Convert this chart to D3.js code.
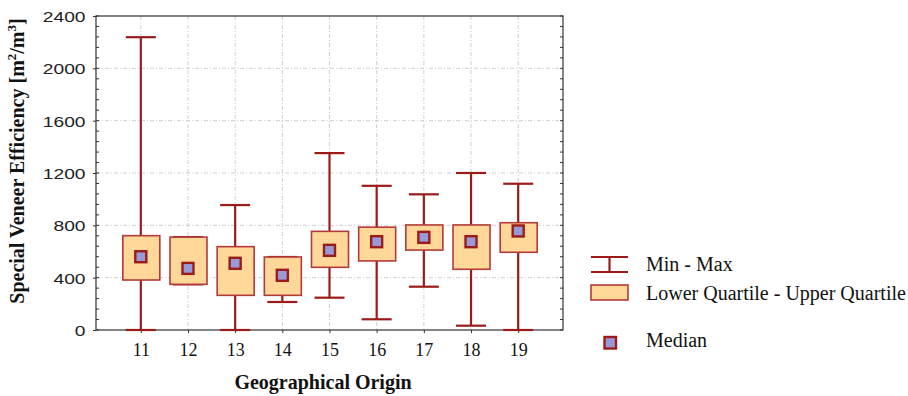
<!DOCTYPE html>
<html>
<head>
<meta charset="utf-8">
<script src="https://cdn.jsdelivr.net/npm/d3@7"></script>
<style>
  html, body { margin: 0; padding: 0; background: #fff; }
  svg { display: block; }
</style>
</head>
<body>
<svg id="chart" width="908" height="396"></svg>
<script>
// ---- data ----
const categories = ["11", "12", "13", "14", "15", "16", "17", "18", "19"];
const minValues    = [0,    349, 0,   214, 247,  82,   331,  33,   0];
const lowerQuart   = [382,  349, 265, 265, 479,  528,  611,  464,  594];
const medianValues = [560,  471, 510, 418, 609,  675,  708,  675,  757];
const upperQuart   = [721,  710, 637, 558, 754,  786,  803,  803,  820];
const maxValues    = [2238, 710, 955, 558, 1352, 1102, 1037, 1200, 1118];
const yTicks = [0, 400, 800, 1200, 1600, 2000, 2400];
const legendLabels = ["Min - Max", "Lower Quartile - Upper Quartile", "Median"];

// ---- styles ----
const darkRed = "#9b1b1b";
const boxFill = "#ffd798";
const boxStroke = "#b33a3a";
const medFill = "#9a99d8";
const gridColor = "#cfcfcf";

const svg = d3.select("#chart");
const pL = 96, pR = 563, pT = 16, pB = 330;

const x = d3.scalePoint().domain(categories).range([pL, pR]).padding(0.95);
const y = d3.scaleLinear().domain([0, 2400]).range([pB, pT]);

// gridlines
const grid = svg.append("g");
grid.selectAll("line.h").data(yTicks.filter(d => d > 0 && d < 2400)).join("line")
  .attr("x1", pL).attr("x2", pR)
  .attr("y1", d => y(d)).attr("y2", d => y(d))
  .attr("stroke", gridColor).attr("stroke-width", 1).attr("stroke-dasharray", "4,2,1,2");
grid.selectAll("line.v").data(categories).join("line")
  .attr("x1", d => x(d)).attr("x2", d => x(d))
  .attr("y1", pT).attr("y2", pB)
  .attr("stroke", gridColor).attr("stroke-width", 1).attr("stroke-dasharray", "4,2,1,2");

// minor ticks (inward) on left and right
const minor = d3.range(0, 2400 + 1, 80);
svg.append("g").selectAll("line").data(minor).join("line")
  .attr("x1", pL).attr("x2", pL + 3)
  .attr("y1", d => y(d)).attr("y2", d => y(d))
  .attr("stroke", "#333").attr("stroke-width", 1);
svg.append("g").selectAll("line").data(minor).join("line")
  .attr("x1", pR).attr("x2", pR - 3)
  .attr("y1", d => y(d)).attr("y2", d => y(d))
  .attr("stroke", "#333").attr("stroke-width", 1);

// axes
const yAxis = svg.append("g").attr("transform", `translate(${pL},0)`)
  .call(d3.axisLeft(y).tickValues(yTicks).tickSize(3).tickSizeOuter(0).tickFormat(d3.format("d")));
yAxis.select(".domain").remove();
yAxis.selectAll(".tick line").attr("stroke", "#333");
yAxis.selectAll(".tick text")
  .attr("font-family", "'Liberation Sans', Arial, sans-serif")
  .attr("font-size", 15)
  .attr("fill", "#222")
  .attr("x", -10.5 / 1.28)
  .attr("transform", "scale(1.28,1)")
  .attr("dy", "0.36em");

const xAxis = svg.append("g").attr("transform", `translate(0,${pB})`)
  .call(d3.axisBottom(x).tickSize(3).tickSizeOuter(0));
xAxis.select(".domain").remove();
xAxis.selectAll(".tick line").attr("stroke", "#333");
xAxis.selectAll(".tick text")
  .attr("font-family", "'Liberation Serif', 'Times New Roman', serif")
  .attr("font-size", 18)
  .attr("fill", "#111")
  .attr("y", 26)
  .attr("dy", 0);

// frame
svg.append("rect").attr("x", pL).attr("y", pT)
  .attr("width", pR - pL).attr("height", pB - pT)
  .attr("fill", "none").attr("stroke", "#333").attr("stroke-width", 1.2);

// boxes
const data = categories.map((c, i) => ({
  c, min: minValues[i], q1: lowerQuart[i], med: medianValues[i], q3: upperQuart[i], max: maxValues[i]
}));
const boxW = 37, capW = 30, medS = 11;
const g = svg.append("g");
const item = g.selectAll("g").data(data).join("g");
item.append("line")
  .attr("x1", d => x(d.c)).attr("x2", d => x(d.c))
  .attr("y1", d => y(d.min)).attr("y2", d => y(d.max))
  .attr("stroke", darkRed).attr("stroke-width", 2.2);
item.append("line")
  .attr("x1", d => x(d.c) - capW / 2).attr("x2", d => x(d.c) + capW / 2)
  .attr("y1", d => y(d.max)).attr("y2", d => y(d.max))
  .attr("stroke", darkRed).attr("stroke-width", 2.2);
item.append("line")
  .attr("x1", d => x(d.c) - capW / 2).attr("x2", d => x(d.c) + capW / 2)
  .attr("y1", d => y(d.min)).attr("y2", d => y(d.min))
  .attr("stroke", darkRed).attr("stroke-width", 2.2);
item.append("rect")
  .attr("x", d => x(d.c) - boxW / 2 + 0.5)
  .attr("y", d => y(d.q3))
  .attr("width", boxW)
  .attr("height", d => y(d.q1) - y(d.q3))
  .attr("fill", boxFill).attr("stroke", boxStroke).attr("stroke-width", 1.6);
item.append("rect")
  .attr("x", d => x(d.c) - medS / 2)
  .attr("y", d => y(d.med) - medS / 2)
  .attr("width", medS).attr("height", medS)
  .attr("fill", medFill).attr("stroke", darkRed).attr("stroke-width", 2.4);

// axis titles
svg.append("text")
  .attr("x", 323).attr("y", 389)
  .attr("text-anchor", "middle")
  .attr("font-family", "'Liberation Serif', 'Times New Roman', serif")
  .attr("font-weight", "bold").attr("font-size", 20).attr("fill", "#111")
  .text("Geographical Origin");

const yt = svg.append("text")
  .attr("transform", "translate(24,161) rotate(-90)")
  .attr("text-anchor", "middle")
  .attr("font-family", "'Liberation Serif', 'Times New Roman', serif")
  .attr("font-weight", "bold").attr("font-size", 20).attr("fill", "#111");
yt.append("tspan").text("Special Veneer Efficiency [m");
yt.append("tspan").attr("font-size", 13).attr("dy", -8).text("2");
yt.append("tspan").attr("dy", 8).text("/m");
yt.append("tspan").attr("font-size", 13).attr("dy", -8).text("3");
yt.append("tspan").attr("dy", 8).text("]");

// legend
const lg = svg.append("g");
const lx0 = 591, lx1 = 628, lxc = 609.5;
lg.append("line").attr("x1", lx0).attr("x2", lx1).attr("y1", 257).attr("y2", 257)
  .attr("stroke", darkRed).attr("stroke-width", 2.2);
lg.append("line").attr("x1", lx0).attr("x2", lx1).attr("y1", 272).attr("y2", 272)
  .attr("stroke", darkRed).attr("stroke-width", 2.2);
lg.append("line").attr("x1", lxc).attr("x2", lxc).attr("y1", 257).attr("y2", 272)
  .attr("stroke", darkRed).attr("stroke-width", 2.2);
lg.append("rect").attr("x", lx0).attr("y", 285).attr("width", lx1 - lx0).attr("height", 15)
  .attr("fill", boxFill).attr("stroke", boxStroke).attr("stroke-width", 1.6);
lg.append("rect").attr("x", 604.5).attr("y", 337).attr("width", 11.5).attr("height", 11.5)
  .attr("fill", medFill).attr("stroke", darkRed).attr("stroke-width", 2.4);
const ly = [271, 300, 347];
lg.selectAll("text").data(legendLabels).join("text")
  .attr("x", 646).attr("y", (d, i) => ly[i])
  .attr("font-family", "'Liberation Serif', 'Times New Roman', serif")
  .attr("font-size", 20).attr("fill", "#111")
  .text(d => d);
</script>
</body>
</html>
